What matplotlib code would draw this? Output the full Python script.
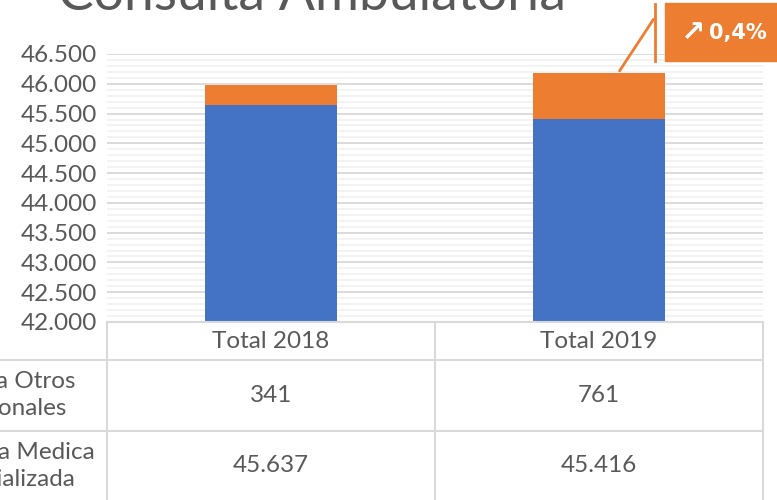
import matplotlib.pyplot as plt
from matplotlib.lines import Line2D
from matplotlib.ticker import MultipleLocator, FuncFormatter

# data
categories = ['Total 2018', 'Total 2019']
medica = [45637, 45416]
otros = [341, 761]
row_labels = ['Consulta Otros\nProfesionales', 'Consulta Medica\nEspecializada']
change_arrow = '\u2197'
change_label = '0,4%'
title = 'Consulta Ambulatoria'

blue = '#4472C4'
orange = '#ED7D31'
grey = '#595959'
W, H = 777, 500

plt.rcParams['font.family'] = ['Lato', 'DejaVu Sans']


def fx(px):
    return px / W


def fy(py):
    return 1 - py / H


def thousands(v, pos=None):
    return '{:,.0f}'.format(v).replace(',', '.')


fig = plt.figure(figsize=(W / 100, H / 100), dpi=100)
ax = fig.add_axes([fx(107), fy(322), fx(763) - fx(107), fy(54) - fy(322)])

x = range(len(categories))
ax.bar(x, medica, width=0.4, color=blue, zorder=3)
ax.bar(x, otros, bottom=medica, width=0.4, color=orange, zorder=3)
ax.set_xlim(-0.5, 1.5)
ax.set_ylim(42000, 46500)
ax.yaxis.set_major_locator(MultipleLocator(500))
ax.yaxis.set_minor_locator(MultipleLocator(100))
ax.yaxis.set_major_formatter(FuncFormatter(thousands))
ax.grid(which='major', axis='y', color='#d9d9d9', lw=1.3, zorder=0)
ax.grid(which='minor', axis='y', color='#f2f2f2', lw=1.3, zorder=0)
ax.tick_params(axis='y', which='both', length=0, labelsize=17.5,
               labelcolor=grey, pad=7)
ax.tick_params(axis='x', bottom=False, labelbottom=False)
for s in ax.spines.values():
    s.set_visible(False)

# title, cut off at the top
fig.text(fx(312), fy(10), title, ha='center', va='baseline',
         fontsize=38.5, color=grey)

# data table under the plot
line_kw = dict(color='#d9d9d9', lw=1.5, transform=fig.transFigure)
fig.add_artist(Line2D([fx(107), fx(763)], [fy(322), fy(322)], **line_kw))
for yy in (360, 431):
    fig.add_artist(Line2D([0, fx(763)], [fy(yy), fy(yy)], **line_kw))
for xx in (107, 435, 763):
    fig.add_artist(Line2D([fx(xx), fx(xx)], [fy(322), 0], **line_kw))

centers = [271, 599]
for i, cat in enumerate(categories):
    fig.text(fx(centers[i]), fy(341), cat, ha='center', va='center',
             fontsize=17.5, color=grey)
    fig.text(fx(centers[i]), fy(395), thousands(otros[i]), ha='center',
             va='center', fontsize=17.5, color=grey)
    fig.text(fx(centers[i]), fy(466), thousands(medica[i]), ha='center',
             va='center', fontsize=17.5, color=grey)

fig.text(fx(-5), fy(395), row_labels[0], ha='center', va='center',
         multialignment='center', fontsize=17.5, color=grey, linespacing=1.3)
fig.text(fx(5), fy(466), row_labels[1], ha='center', va='center',
         multialignment='center', fontsize=17.5, color=grey, linespacing=1.3)

# change callout
top_2019 = medica[1] + otros[1]
fig.add_artist(Line2D([fx(655), fx(655)], [fy(4), fy(61)], color=orange,
                      lw=2, transform=fig.transFigure))
ax.annotate('', xy=(1 + 0.4 * (618 - 599) / 131, top_2019),
            xytext=(fx(655), fy(17)), textcoords='figure fraction',
            arrowprops=dict(arrowstyle='-', color=orange, lw=2),
            annotation_clip=False)
fig.patches.append(plt.Rectangle((fx(665), fy(61)), fx(W) - fx(665) + 0.01,
                                 fy(3) - fy(61), color=orange,
                                 transform=fig.transFigure))
fig.text(fx(681), fy(33), change_arrow, ha='left', va='center',
         fontsize=21, fontweight='bold', color='white',
         family=['DejaVu Sans'])
fig.text(fx(709), fy(33), change_label, ha='left', va='center',
         fontsize=15, fontweight='bold', color='white',
         family=['DejaVu Sans'])

fig.savefig('out.png', dpi=100)
